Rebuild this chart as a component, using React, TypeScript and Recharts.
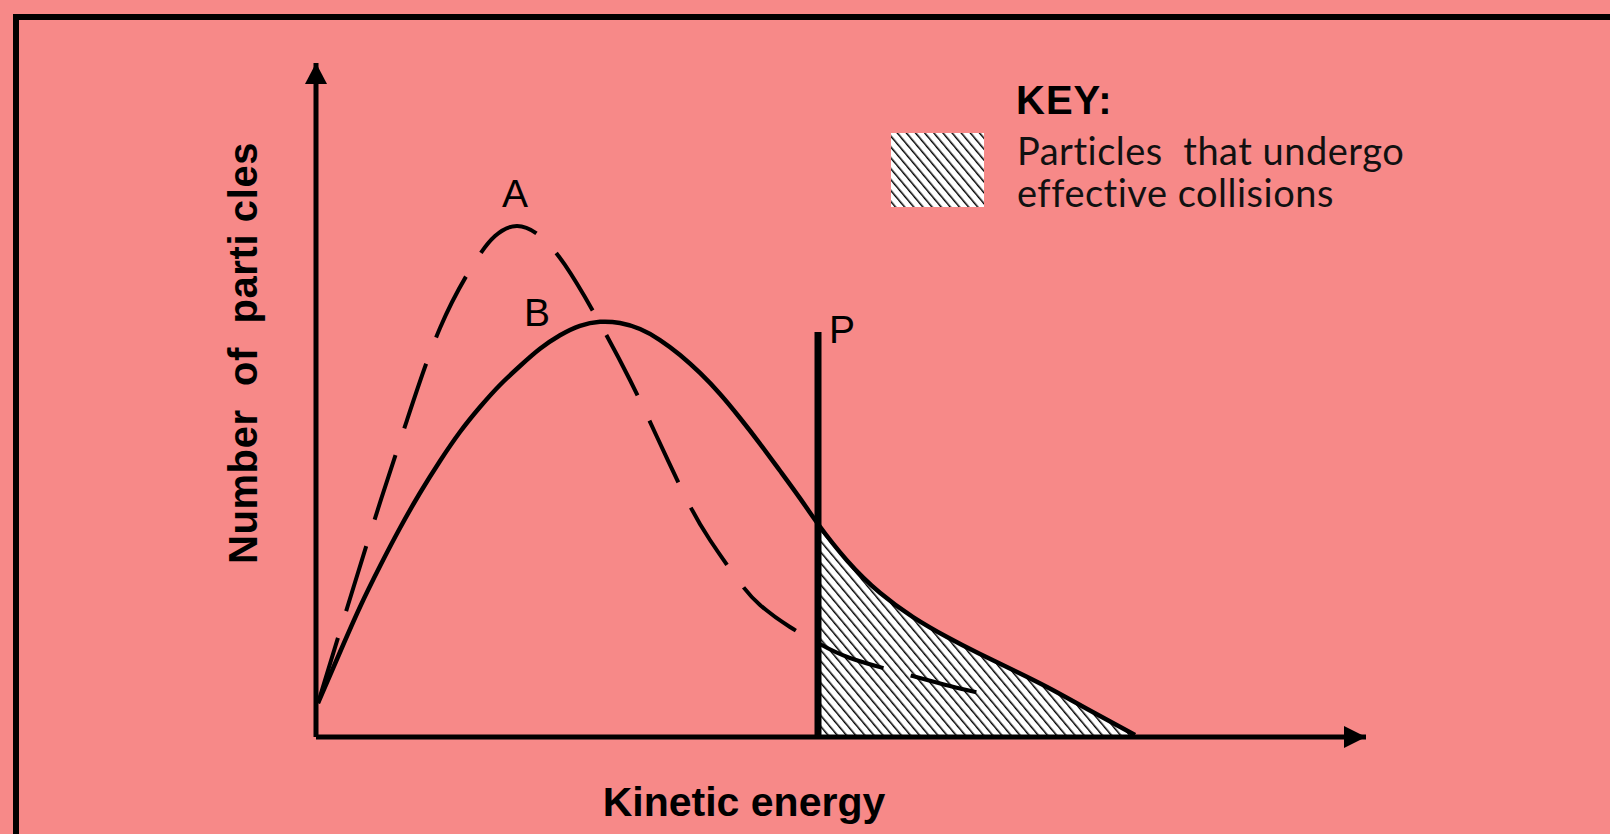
import { ComposedChart, Line, Area, XAxis, YAxis, ReferenceLine, ReferenceDot, Legend } from "recharts"

// kinetic energy (x) vs number of particles (y), arbitrary units 0..100
const curveA_x = [0.19, 3.05, 5.81, 8.67, 11.81, 14.95, 17.05, 19.14, 21.33, 23.71, 26.86, 29.9, 32.48, 35.33, 37.52, 40.19, 42.29, 45.14, 47.81, 50.86, 56.1, 60.38, 64.95]
const curveA_y = [5.04, 19.58, 33.38, 47.03, 60.68, 70.03, 74.33, 75.82, 74.33, 70.03, 61.87, 52.97, 44.51, 35.16, 29.23, 23.29, 19.58, 16.32, 13.95, 11.72, 9.35, 7.57, 5.93]

const curveB_x = [0.19, 2.29, 4.19, 6.1, 8.0, 9.9, 11.81, 13.71, 15.62, 17.52, 19.43, 21.33, 23.24, 25.14, 27.05, 28.95, 30.86, 32.76, 34.67, 36.57, 38.48, 40.38, 42.29, 44.19, 46.1, 47.81, 50.57, 53.71, 56.86, 60.1, 63.24, 66.38, 69.62, 72.76, 75.9, 78.0]
const curveB_y = [5.04, 12.61, 19.29, 25.37, 31.01, 36.2, 40.95, 45.25, 48.96, 52.23, 55.04, 57.59, 59.6, 61.0, 61.6, 61.42, 60.53, 58.9, 56.68, 54.01, 50.89, 47.33, 43.5, 39.5, 35.4, 31.6, 26.2, 21.4, 17.8, 14.84, 12.31, 9.94, 7.42, 4.75, 2.08, 0.3]

const thresholdP = 47.81
const thresholdTop = 60.1

const keyTitle = "KEY:"
const keyLines = ["Particles  that undergo", "effective collisions"]

const curveA = curveA_x.map((x, i) => ({ x, a: curveA_y[i] }))
const curveB = curveB_x.map((x, i) => ({ x, b: curveB_y[i] }))
const tail = curveB.filter(d => d.x >= thresholdP)

const BG = "#f78988"
const armFont = "'Liberation Sans', Arial, sans-serif"

const KeyLegend = () => (
  <svg width={560} height={150}>
    <defs>
      <pattern id="hatchKey" patternUnits="userSpaceOnUse" width={7} height={7} patternTransform="rotate(-40)">
        <rect width={7} height={7} fill="#fff" />
        <line x1={0} y1={0} x2={0} y2={7} stroke="#000" strokeWidth={3} />
      </pattern>
    </defs>
    <rect x={11} y={63} width={93} height={74} fill="url(#hatchKey)" />
    <text x={136} y={44} fontFamily={armFont} fontWeight="bold" fontSize={40} letterSpacing={1} fill="#000">{keyTitle}</text>
    {keyLines.map((t, i) => (
      <text key={i} x={137} y={95 + i * 42} fontFamily="Lato, sans-serif" fontSize={38} letterSpacing={0.5} fill="#111"
        style={{ whiteSpace: "pre", fontVariantLigatures: "none" }}>{t}</text>
    ))}
  </svg>
)

const Label = (txt: string, anchor: string) => (p: any) => (
  <text x={p.cx} y={p.cy} textAnchor={anchor} fontFamily={armFont} fontSize={39} fill="#000">{txt}</text>
)

const ArrowRight = (p: any) => (
  <polygon points={`${p.cx},${p.cy} ${p.cx - 22},${p.cy - 11} ${p.cx - 22},${p.cy + 11}`} fill="#000" />
)
const ArrowUp = (p: any) => (
  <polygon points={`${p.cx},${p.cy} ${p.cx - 11},${p.cy + 21} ${p.cx + 11},${p.cy + 21}`} fill="#000" />
)

export default function App() {
  return (
    <div style={{ position: "absolute", left: 0, top: 0, width: 1610, height: 834, background: BG, overflow: "hidden" }}>
      <div style={{ position: "absolute", left: 13, top: 14, width: 1700, height: 900, borderTop: "6px solid #000", borderLeft: "6px solid #000" }} />
      <div style={{ position: "absolute", left: 0, top: 0 }}>
        <ComposedChart width={1610} height={834} margin={{ top: 63, right: 244, bottom: 96, left: 315 }}>
          <defs>
            <pattern id="hatch" patternUnits="userSpaceOnUse" width={7} height={7} patternTransform="rotate(-40)">
              <rect width={7} height={7} fill="#fff" />
              <line x1={0} y1={0} x2={0} y2={7} stroke="#000" strokeWidth={3} />
            </pattern>
          </defs>
          <XAxis
            type="number"
            dataKey="x"
            domain={[0, 100]}
            height={1}
            tick={false}
            tickLine={false}
            axisLine={{ stroke: "#000", strokeWidth: 5 }}
            label={{
              content: (p: any) => (
                <text x={p.viewBox.x + 428} y={p.viewBox.y + 79} textAnchor="middle" fontFamily={armFont} fontWeight="bold" fontSize={41} fill="#000">Kinetic energy</text>
              )
            }}
          />
          <YAxis
            type="number"
            domain={[0, 100]}
            width={1}
            tick={false}
            tickLine={false}
            axisLine={{ stroke: "#000", strokeWidth: 5 }}
            label={{
              content: (p: any) => {
                const x = p.viewBox.x - 58
                const y = p.viewBox.y + 290
                return (
                  <text x={x} y={y} transform={`rotate(-90, ${x}, ${y})`} textAnchor="middle" fontFamily={armFont} fontWeight="bold" fontSize={40} letterSpacing={0.6} fill="#000" style={{ whiteSpace: "pre" }}>Number  of  parti cles</text>
                )
              }
            }}
          />
          <Legend layout="horizontal" verticalAlign="middle" align="center" wrapperStyle={{ position: "absolute", left: 880, top: 70, width: 560, height: 150 }} content={<KeyLegend />} />
          <Area data={tail} dataKey="b" type="natural" fill="url(#hatch)" fillOpacity={1} stroke="none" isAnimationActive={false} />
          <Line data={curveB} dataKey="b" type="natural" stroke="#000" strokeWidth={4.5} dot={false} isAnimationActive={false} />
          <Line data={curveA} dataKey="a" type="natural" stroke="#000" strokeWidth={4} strokeDasharray="68 28" dot={false} isAnimationActive={false} />
          <ReferenceLine segment={[{ x: thresholdP, y: 0 }, { x: thresholdP, y: thresholdTop }]} stroke="#000" strokeWidth={7} />
          <ReferenceDot x={100} y={0} r={0} ifOverflow="visible" shape={ArrowRight} />
          <ReferenceDot x={0} y={100} r={0} ifOverflow="visible" shape={ArrowUp} />
          <ReferenceDot x={18.95} y={78.6} r={0} ifOverflow="visible" shape={Label("A", "middle")} />
          <ReferenceDot x={21.05} y={61.0} r={0} ifOverflow="visible" shape={Label("B", "middle")} />
          <ReferenceDot x={48.86} y={58.5} r={0} ifOverflow="visible" shape={Label("P", "start")} />
        </ComposedChart>
      </div>
    </div>
  )
}
